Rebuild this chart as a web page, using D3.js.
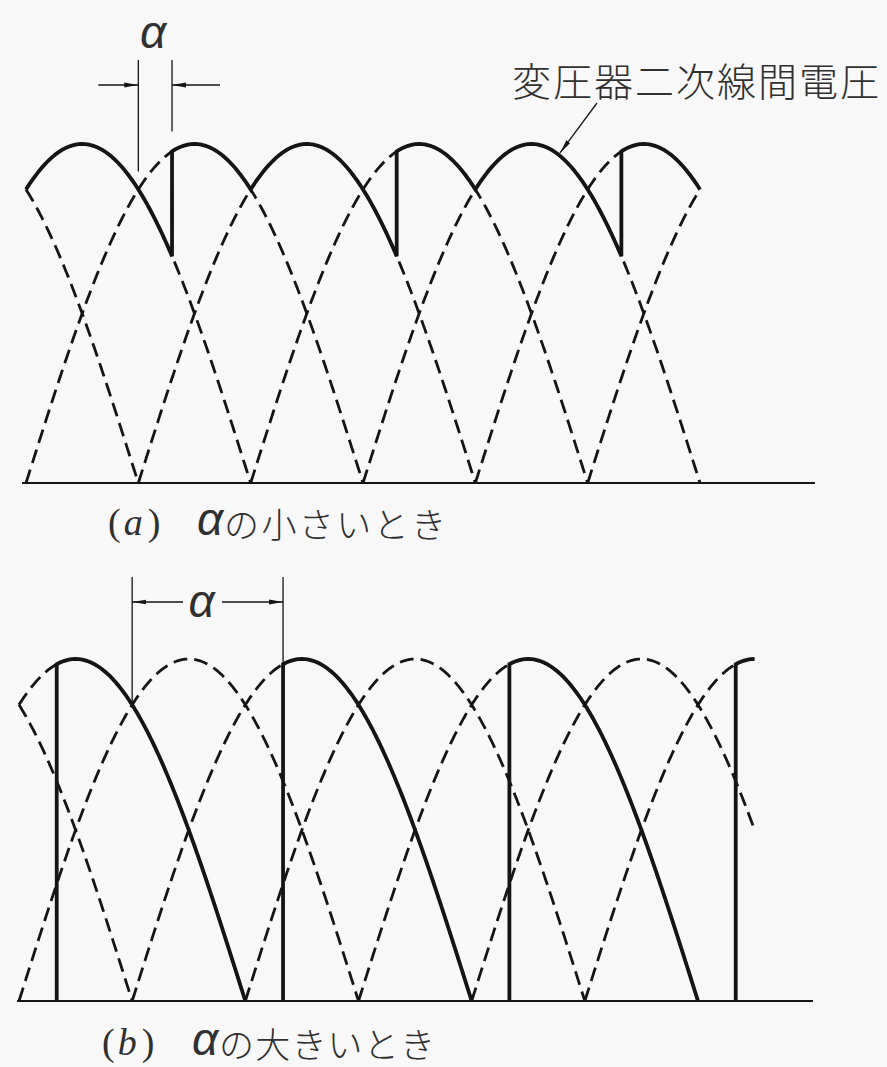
<!DOCTYPE html>
<html>
<head>
<meta charset="utf-8">
<script src="https://cdn.jsdelivr.net/npm/d3@7"></script>
<style>
  html, body { margin: 0; padding: 0; background: #f8f8f8; }
  svg { display: block; }
</style>
</head>
<body>
<svg id="chart" width="887" height="1067"></svg>
<script>
// Angles are electrical degrees. Every arch is one positive half-cycle of a
// transformer line-to-line voltage; the value is the start angle of that arch.
const archStartsA = [-120, -60, 0, 60, 120, 180, 240, 300];
const archStartsB = [-120, -60, 0, 60, 120, 180, 240, 300];

// Angle window shown in each panel
const viewA = [0, 360];
const viewB = [0, 390];

// Firing delay α for each panel
const alphaA = 18;
const alphaB = 80;

// Rectifier output (thick line): [arch start, from angle, to angle]
const outputA = [
  [-60, 0, 78], [0, 78, 120], [60, 120, 198],
  [120, 198, 240], [180, 240, 318], [240, 318, 360]
];
// (b): each conduction block begins with a firing from zero
const outputB = [
  [-60, 20, 120], [60, 140, 240], [180, 260, 360], [300, 380, 390]
];

// Angle where the α dimension starts (natural commutation point)
const commutationA = 60;
const commutationB = 60;

const leaderText = "変圧器二次線間電圧";
const captionA = { tag: "a", text: "の小さいとき" };
const captionB = { tag: "b", text: "の大きいとき" };

// ---------------------------------------------------------------------
const svg = d3.select("#chart");
const INK = "#151515";
const TEXT = "#303030";
const CJK = "'Noto Sans CJK JP', 'Noto Sans CJK SC', sans-serif";
const GREEK = "'Liberation Sans', sans-serif";

const defs = svg.append("defs");
defs.append("marker")
  .attr("id", "head")
  .attr("viewBox", "0 0 14 6")
  .attr("refX", 14).attr("refY", 3)
  .attr("markerWidth", 14).attr("markerHeight", 6)
  .attr("markerUnits", "userSpaceOnUse")
  .attr("orient", "auto")
  .append("path")
  .attr("d", "M0,0.6 L14,3 L0,5.4 Z")
  .attr("fill", INK);

const arch = (start, t) => Math.sin((t - start) * Math.PI / 180);

function samples(a, b, step = 0.5) {
  const out = d3.range(a, b, step);
  out.push(b);
  return out;
}

function panel(cfg) {
  const g = svg.append("g");
  const x = cfg.x, y = cfg.y;
  const line = d3.line().x(d => x(d[0])).y(d => y(d[1]));

  // baseline
  g.append("line")
    .attr("x1", cfg.base[0]).attr("x2", cfg.base[1])
    .attr("y1", y(0)).attr("y2", y(0))
    .attr("stroke", INK).attr("stroke-width", 2.2);

  // dashed line-to-line voltages
  cfg.arches.forEach(s => {
    const a = Math.max(s, cfg.view[0]);
    const b = Math.min(s + 180, cfg.view[1]);
    if (b <= a) return;
    const pts = samples(a, b).map(t => [t, Math.max(0, arch(s, t))]);
    g.append("path")
      .attr("d", line(pts))
      .attr("fill", "none")
      .attr("stroke", INK)
      .attr("stroke-width", 2.8)
      .attr("stroke-dasharray", "14,7");
  });

  // thick output voltage
  cfg.blocks.forEach(path => {
    g.append("path")
      .attr("d", line(path))
      .attr("fill", "none")
      .attr("stroke", INK)
      .attr("stroke-width", 3.8)
      .attr("stroke-linejoin", "miter");
  });
  return g;
}

// Panel (a)
const xA = d3.scaleLinear().domain([0, 360]).range([26, 700]);
const yA = d3.scaleLinear().domain([0, 1]).range([483, 144]);
const pathA = [];
outputA.forEach(([s, a, b]) => samples(a, b).forEach(t => pathA.push([t, arch(s, t)])));
panel({ x: xA, y: yA, base: [22, 815], view: viewA, arches: archStartsA, blocks: [pathA] });

// Panel (b)
const xB = d3.scaleLinear().domain([0, 360]).range([19, 698]);
const yB = d3.scaleLinear().domain([0, 1]).range([1001, 659]);
const blocksB = outputB.map(([s, a, b]) => {
  const pts = [[a, 0]];
  samples(a, b).forEach(t => pts.push([t, Math.max(0, arch(s, t))]));
  return pts;
});
panel({ x: xB, y: yB, base: [17, 813], view: viewB, arches: archStartsB, blocks: blocksB });

// ---------------------------------------------------------------------
const thin = (x1, y1, x2, y2, head) => {
  const l = svg.append("line")
    .attr("x1", x1).attr("y1", y1).attr("x2", x2).attr("y2", y2)
    .attr("stroke", INK).attr("stroke-width", 1.3);
  if (head) l.attr("marker-end", "url(#head)");
  return l;
};
const alphaLabel = (x, y) => svg.append("text")
  .attr("x", x).attr("y", y)
  .attr("text-anchor", "middle").attr("dominant-baseline", "central")
  .attr("font-family", GREEK).attr("font-style", "italic")
  .attr("font-weight", "normal")
  .attr("font-size", 46).attr("fill", TEXT)
  .text("α");

// α dimension, panel (a)
{
  const c = commutationA, f = commutationA + alphaA;
  const x1 = xA(c), x2 = xA(f);
  thin(x1, 60, x1, yA(arch(-60, c)) - 18);
  thin(x2, 60, x2, yA(arch(0, f)) - 20);
  thin(x1 - 40, 85, x1, 85, true);
  thin(x2 + 48, 85, x2, 85, true);
  alphaLabel((x1 + x2) / 2 - 2, 32);
}

// α dimension, panel (b)
{
  const c = commutationB, f = commutationB + alphaB;
  const x1 = xB(c), x2 = xB(f);
  thin(x1, 577, x1, yB(arch(-60, c)));
  thin(x2, 577, x2, yB(arch(60, f)));
  thin(183, 602, x1, 602, true);
  thin(222, 602, x2, 602, true);
  alphaLabel((x1 + x2) / 2 - 6, 601);
}

// leader to the line-to-line voltage curve
{
  const tx = 560;
  const t = xA.invert(tx);
  thin(597, 103, tx, yA(arch(180, t)) - 3, true);
  svg.append("text")
    .attr("x", 512).attr("y", 79)
    .attr("dominant-baseline", "central")
    .attr("font-family", CJK).attr("font-weight", 300)
    .attr("font-size", 39).attr("letter-spacing", 2)
    .attr("fill", TEXT)
    .text(leaderText);
}

// captions: "(x)" tag, italic α, then the kana text
function caption(x0, xAlpha, cy, cap, spacing) {
  const g = svg.append("g").attr("fill", TEXT);
  const serif = "'Liberation Serif', serif";
  const t = g.append("text")
    .attr("x", x0).attr("y", cy)
    .attr("dominant-baseline", "central")
    .attr("font-family", serif).attr("font-size", 38);
  t.append("tspan").text("(");
  t.append("tspan").attr("dx", 3).attr("font-style", "italic").text(cap.tag);
  t.append("tspan").attr("dx", 5).text(")");

  g.append("text")
    .attr("x", xAlpha).attr("y", cy - 3)
    .attr("dominant-baseline", "central")
    .attr("font-family", GREEK).attr("font-style", "italic")
    .attr("font-weight", "normal").attr("font-size", 46)
    .text("α");

  g.append("text")
    .attr("x", xAlpha + 27).attr("y", cy)
    .attr("dominant-baseline", "central")
    .attr("font-family", CJK).attr("font-weight", 300)
    .attr("font-size", 35).attr("letter-spacing", spacing)
    .text(cap.text);
}
caption(108, 197, 522, captionA, 2.4);
caption(102, 192, 1042, captionB, 1.2);
</script>
</body>
</html>
